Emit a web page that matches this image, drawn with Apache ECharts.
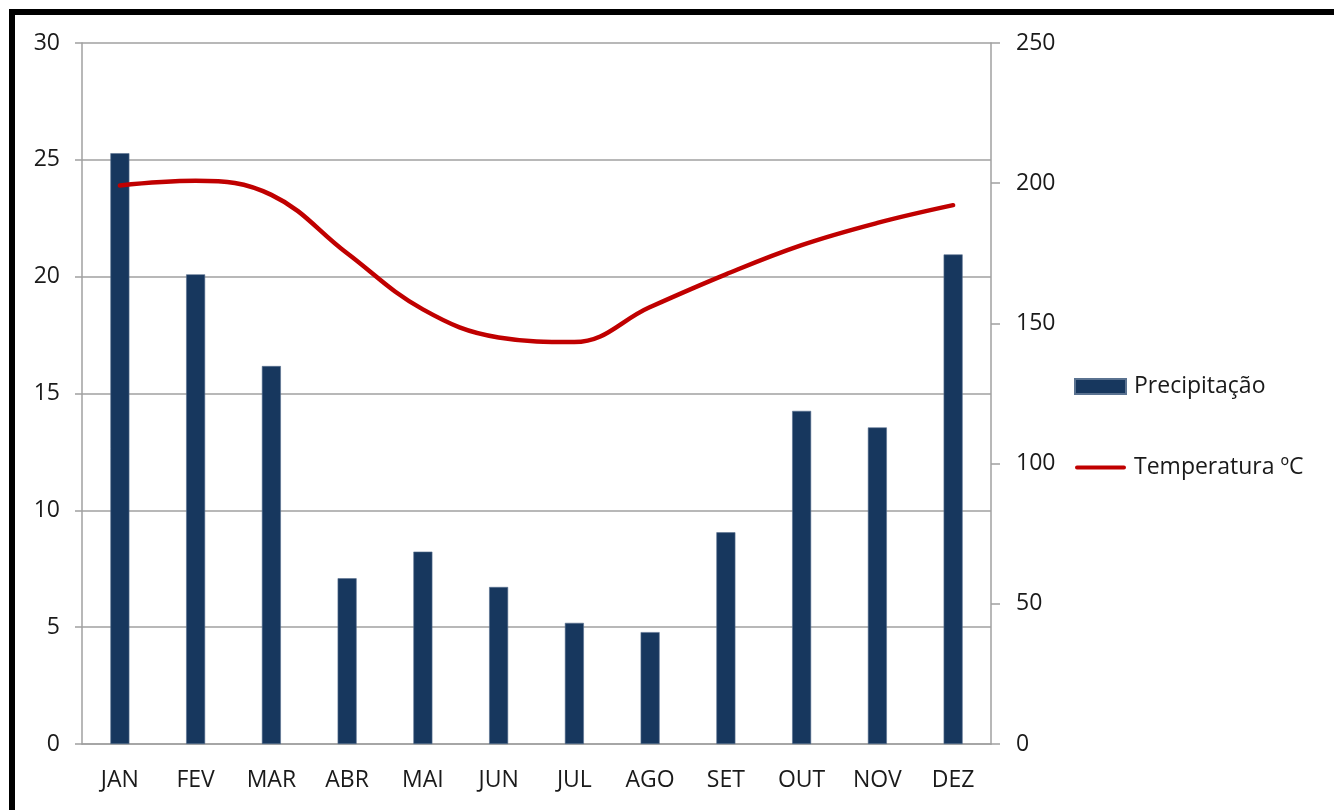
<!DOCTYPE html>
<html>
<head>
<meta charset="utf-8">
<script src="https://cdn.jsdelivr.net/npm/echarts@6/dist/echarts.min.js"></script>
<style>
html,body{margin:0;padding:0;background:#fff;}
#chart{width:1334px;height:810px;}
</style>
</head>
<body>
<div id="chart"></div>
<script>
var categories = ['JAN','FEV','MAR','ABR','MAI','JUN','JUL','AGO','SET','OUT','NOV','DEZ'];
var precipitacao = [210.7, 167.5, 134.8, 59.1, 68.6, 56.0, 43.2, 39.9, 75.5, 118.8, 112.9, 174.6];
var temperatura = [23.9, 24.1, 23.5, 21.0, 18.6, 17.4, 17.2, 18.7, 20.1, 21.35, 22.3, 23.06];
var leftTicks = {min: 0, max: 30, interval: 5};
var rightTicks = {min: 0, max: 250, interval: 50};

var chart = echarts.init(document.getElementById('chart'));
var font = '"Open Sans", "Noto Sans", sans-serif';
var txt = '#1a1a1a';
var gray = '#a0a0a0';
var lineIcon = 'path://M2,5.5 L49,5.5 A2,2 0 0 1 49,9.5 L2,9.5 A2,2 0 0 1 2,5.5 Z M0,0 L0.01,0 L0.01,0.01 Z M51,15 L50.99,15 L50.99,14.99 Z';
chart.setOption({
  animation: false,
  backgroundColor: '#fff',
  graphic: [{
    type: 'rect',
    shape: {x: 12, y: 12, width: 1500, height: 1000},
    style: {fill: 'none', stroke: '#000', lineWidth: 6},
    z: 100
  }],
  grid: {left: 82, right: 343, top: 43, bottom: 66, containLabel: false},
  legend: {
    orient: 'vertical',
    left: 1074,
    top: 375,
    padding: 0,
    itemWidth: 51,
    itemHeight: 15,
    itemGap: 58,
    textStyle: {fontFamily: font, fontSize: 23, color: txt, padding: [0, 0, 0, 3]},
    data: [
      {name: 'Precipitação', icon: 'rect'},
      {name: 'Temperatura ºC', icon: lineIcon, itemStyle: {color: '#C00000', borderWidth: 0}}
    ]
  },
  xAxis: {
    type: 'category',
    data: categories,
    axisTick: {show: false},
    axisLine: {lineStyle: {color: gray, width: 1.5}},
    axisLabel: {fontFamily: font, fontSize: 23, color: txt, margin: 25}
  },
  yAxis: [{
    type: 'value',
    position: 'left',
    min: leftTicks.min, max: leftTicks.max, interval: leftTicks.interval,
    axisLine: {show: true, lineStyle: {color: gray, width: 1.5}},
    axisTick: {show: true, length: 7, lineStyle: {color: gray, width: 1.5}},
    splitLine: {show: true, lineStyle: {color: gray, width: 1.5}},
    axisLabel: {fontFamily: font, fontSize: 23, color: txt, margin: 22}
  }, {
    type: 'value',
    position: 'right',
    min: rightTicks.min, max: rightTicks.max, interval: rightTicks.interval,
    axisLine: {show: true, lineStyle: {color: gray, width: 1.5}},
    axisTick: {show: true, length: 9, lineStyle: {color: gray, width: 1.5}},
    splitLine: {show: false},
    axisLabel: {fontFamily: font, fontSize: 23, color: txt, margin: 25}
  }],
  series: [{
    name: 'Precipitação',
    type: 'bar',
    yAxisIndex: 1,
    data: precipitacao,
    barWidth: 19,
    itemStyle: {color: '#17375E', borderColor: '#5a7290', borderWidth: 0.6}
  }, {
    name: 'Temperatura ºC',
    type: 'line',
    yAxisIndex: 0,
    data: temperatura,
    smooth: 0.4,
    symbol: 'none',
    lineStyle: {color: '#C00000', width: 4.5, cap: 'round'},
    itemStyle: {color: '#C00000'},
    z: 5
  }]
});
</script>
</body>
</html>
